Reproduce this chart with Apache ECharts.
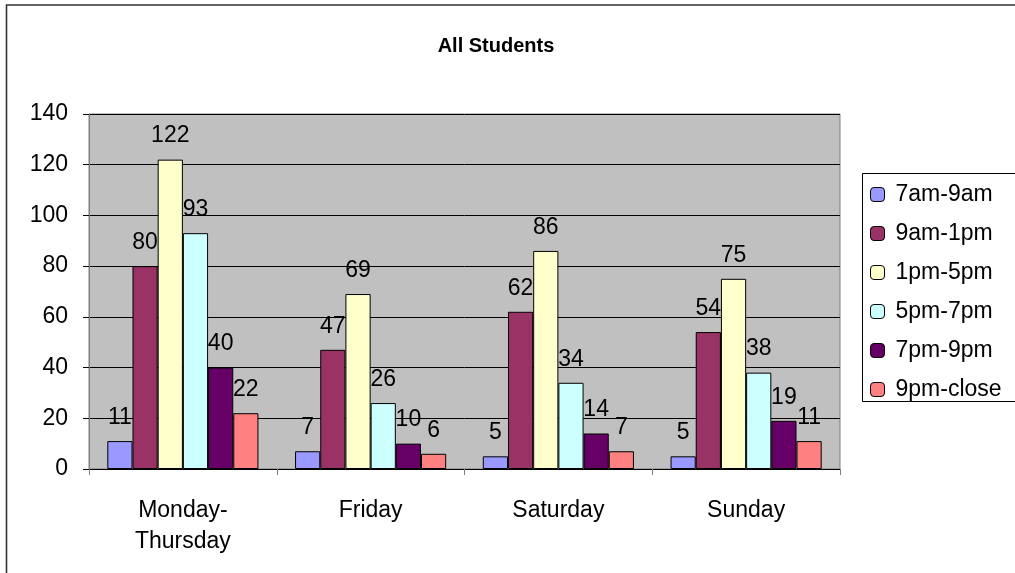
<!DOCTYPE html>
<html>
<head>
<meta charset="utf-8">
<script src="https://cdn.jsdelivr.net/npm/echarts@6/dist/echarts.min.js"></script>
<style>
html,body{margin:0;padding:0;background:#fff;}
#main{width:1015px;height:573px;}
</style>
</head>
<body>
<div id="main"></div>
<script>
const categories = ['Monday-\nThursday', 'Friday', 'Saturday', 'Sunday'];
const seriesNames = ['7am-9am', '9am-1pm', '1pm-5pm', '5pm-7pm', '7pm-9pm', '9pm-close'];
const s7to9am = [11, 7, 5, 5];
const s9amto1pm = [80, 47, 62, 54];
const s1to5pm = [122, 69, 86, 75];
const s5to7pm = [93, 26, 34, 38];
const s7to9pm = [40, 10, 14, 19];
const s9pmClose = [22, 6, 7, 11];
const seriesValues = [s7to9am, s9amto1pm, s1to5pm, s5to7pm, s7to9pm, s9pmClose];
const colors = ['#9999FF', '#993366', '#FFFFCC', '#CCFFFF', '#660066', '#FF8080'];
const yTicks = {min: 0, max: 140, interval: 20};

const font = 'Arial, "Liberation Sans", sans-serif';
const chart = echarts.init(document.getElementById('main'), null, {renderer: 'canvas'});
chart.setOption({
  animation: false,
  title: {
    text: 'All Students', left: 491, top: 31, textAlign: 'center',
    textStyle: {fontFamily: font, fontSize: 20, fontWeight: 'bold', color: '#000'}
  },
  graphic: [
    {type: 'rect', shape: {x: 6.5, y: 5, width: 1100, height: 700}, style: {fill: 'none', stroke: '#333', lineWidth: 1.6}, z: -10},
    {type: 'rect', shape: {x: 862.5, y: 173.5, width: 200, height: 228}, style: {fill: '#fff', stroke: '#000', lineWidth: 1}, z: 0}
  ],
  legend: {
    orient: 'vertical', left: 870, top: 183, itemWidth: 14, itemHeight: 14, itemGap: 16, padding: 0,
    data: seriesNames,
    textStyle: {fontFamily: font, fontSize: 23, color: '#000', padding: [0, 0, 0, 6]},
    itemStyle: {borderColor: '#000', borderWidth: 1}, z: 5
  },
  grid: {left: 89, right: 175, top: 114, bottom: 104, show: true, backgroundColor: '#C0C0C0', borderColor: '#808080', borderWidth: 1, containLabel: false},
  xAxis: {
    type: 'category', data: categories,
    axisLine: {lineStyle: {color: '#000', width: 1}},
    axisTick: {show: true, length: 6, lineStyle: {color: '#808080'}},
    axisLabel: {fontFamily: font, fontSize: 23, color: '#000', margin: 26, lineHeight: 31}
  },
  yAxis: {
    type: 'value', min: yTicks.min, max: yTicks.max, interval: yTicks.interval,
    axisLine: {show: true, lineStyle: {color: '#808080'}},
    axisTick: {show: true, length: 6, lineStyle: {color: '#000'}},
    axisLabel: {fontFamily: font, fontSize: 23, color: '#000', margin: 21},
    splitLine: {lineStyle: {color: '#000', width: 1}}
  },
  series: seriesNames.map((name, i) => ({
    name, type: 'bar', data: seriesValues[i],
    barGap: '0%', barCategoryGap: '19.5%',
    itemStyle: {color: colors[i], borderColor: '#000', borderWidth: 1},
    label: {show: true, position: 'top', distance: 12, fontFamily: font, fontSize: 23, color: '#000'}
  }))
});
</script>
</body>
</html>
